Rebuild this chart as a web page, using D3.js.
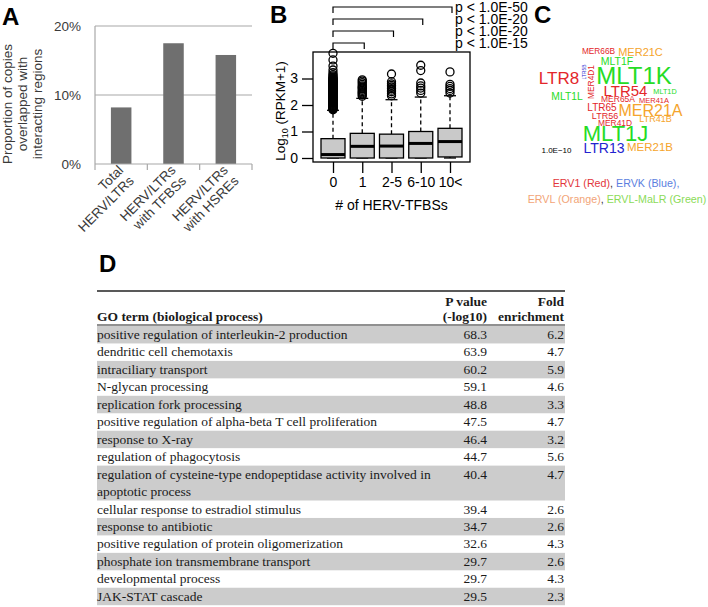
<!DOCTYPE html>
<html><head><meta charset="utf-8">
<script src="https://cdn.jsdelivr.net/npm/d3@7"></script>
<style>body{margin:0;background:#fff}svg{display:block}</style>
</head><body>
<svg id="fig" width="708" height="607"></svg>
<script>
// ---------- Panel A data ----------
const aCategories = [["Total","HERV/LTRs"],["HERV/LTRs","with TFBSs"],["HERV/LTRs","with HSREs"]];
const aValues = [0.082, 0.175, 0.158];
const aTicks = [0, 0.1, 0.2];
const aTickLabels = ["0%","10%","20%"];
const aYLabel = ["Proportion of copies","overlapped with","interacting regions"];

// ---------- Panel B data ----------
const bCategories = ["0","1","2-5","6-10","10<"];
const bLowWhisker = [0, 0, 0, 0, 0];
const bQ1 = [0, 0, 0, 0, 0.04];
const bMedian = [0.13, 0.44, 0.45, 0.55, 0.62];
const bQ3 = [0.73, 0.93, 0.9, 1.0, 1.12];
const bHighWhisker = [1.8, 2.25, 2.2, 2.3, 2.35];
const bOutliers = [
  [1.82,1.84,1.86,1.88,1.9,1.92,1.94,1.96,1.98,2.0,2.02,2.04,2.06,2.08,2.1,2.12,2.14,2.16,2.18,2.2,2.22,2.24,2.26,2.28,2.3,2.32,2.34,2.36,2.38,2.4,2.42,2.44,2.46,2.48,2.5,2.52,2.54,2.56,2.58,2.6,2.62,2.64,2.66,2.68,2.7,2.72,2.74,2.76,2.78,2.8,2.82,2.84,2.86,2.88,2.9,2.92,2.94,2.96,2.98,3.0,3.03,3.06,3.1,3.15,3.22,3.32,3.47,3.7,3.95],
  [2.33,2.38,2.42,2.46,2.5,2.55,2.6,2.64,2.68,2.72,2.78,2.84,2.9,2.95],
  [2.35,2.42,2.5,2.56,2.62,2.68,2.74,2.8,2.88,3.17],
  [2.45,2.55,2.64,2.72,2.83,3.3,3.5],
  [2.45,2.55,2.62,2.7,2.78,3.25]
];
const bYTicks = [0,1,2,3];
const bComparisons = ["1","2-5","6-10","10<"];
const bPLabels = ["p < 1.0E-15","p < 1.0E-20","p < 1.0E-20","p < 1.0E-50"];

// ---------- Panel C data ----------
const cWords = ["MER66B","MER21C","MLT1F","LTR8","LTR5B","MER4D1","MLT1K","LTR54","MLT1D","MLT1L","MER65A","MER41A","LTR65","MER21A","LTR56","LTR41B","MER41D","MLT1J","LTR13","MER21B"];
const cFamily = ["ERV1","ERVL","ERVL-MaLR","ERV1","ERVK","ERV1","ERVL-MaLR","ERV1","ERVL-MaLR","ERVL-MaLR","ERV1","ERV1","ERV1","ERVL","ERV1","ERVL","ERV1","ERVL-MaLR","ERVK","ERVL"];
const cWeight = [8.3,11,10.5,17,5,8.4,24,15,7.3,10.3,8.5,7.5,10,16,9,9,8.4,22,14,11.5];
// word-cloud layout (centres) and rotation
const cLayoutX = [598.5,640.5,617,559,584.5,591,634,625.5,665,567,618,654,602,650.5,605,655.5,615,615.5,604,650];
const cLayoutY = [51,52,61,78,72,82,75.5,90.5,91,96,99,100,107,110,116,119,123,133.5,148,147];
const cRotated = [0,0,0,0,1,1,0,0,0,0,0,0,0,0,0,0,0,0,0,0];
const cFamilies = ["ERV1","ERVK","ERVL","ERVL-MaLR"];
const cWordColors = ["#e3262a","#2323cf","#f5a42c","#26dc26"];
const cLegendColors = ["#e2363b","#5b7ee0","#f2a477","#8bdb58"];
const cScaleLabel = "1.0E\u221210";

// ---------- Panel D data ----------
const dTerms = [
  "positive regulation of interleukin-2 production",
  "dendritic cell chemotaxis",
  "intraciliary transport",
  "N-glycan processing",
  "replication fork processing",
  "positive regulation of alpha-beta T cell proliferation",
  "response to X-ray",
  "regulation of phagocytosis",
  "regulation of cysteine-type endopeptidase activity involved in|apoptotic process",
  "cellular response to estradiol stimulus",
  "response to antibiotic",
  "positive regulation of protein oligomerization",
  "phosphate ion transmembrane transport",
  "developmental process",
  "JAK-STAT cascade"
];
const dPValues = ["68.3","63.9","60.2","59.1","48.8","47.5","46.4","44.7","40.4","39.4","34.7","32.6","29.7","29.7","29.5"];
const dFold = ["6.2","4.7","5.9","4.6","3.3","4.7","3.2","5.6","4.7","2.6","2.6","4.3","2.6","4.3","2.3"];

const svg = d3.select("#fig");
svg.append("rect").attr("width",708).attr("height",607).attr("fill","#fff");

// panel letters
[["A",2,25],["B",270,23],["C",534,23],["D",99,272]].forEach(([t,x,y])=>{
  svg.append("text").attr("x",x).attr("y",y).text(t)
    .attr("font-family","Liberation Sans, Arial, sans-serif").attr("font-weight","bold")
    .attr("font-size",24).attr("fill","#000");
});

// ================= Panel A =================
(function(){
  const g = svg.append("g");
  const tc = "#3a3a3a";
  const x = d3.scaleBand().domain(d3.range(aCategories.length)).range([95,252]).paddingInner(0.608).paddingOuter(0.304);
  const y = d3.scaleLinear().domain([0,0.2]).range([164,26]);
  g.selectAll(".grid").data(aTicks.filter(t=>t>0)).join("line")
    .attr("x1",95).attr("x2",252).attr("y1",d=>y(d)).attr("y2",d=>y(d))
    .attr("stroke","#a8a8a8").attr("stroke-width",1.2);
  g.append("line").attr("x1",95).attr("x2",95).attr("y1",y(0.2)).attr("y2",y(0)).attr("stroke","#a8a8a8").attr("stroke-width",1.2);
  g.selectAll(".bar").data(aValues).join("rect")
    .attr("x",(d,i)=>x(i)).attr("width",x.bandwidth())
    .attr("y",d=>y(d)).attr("height",d=>y(0)-y(d)).attr("fill","#6f6f6f");
  g.append("line").attr("x1",95).attr("x2",252).attr("y1",y(0)).attr("y2",y(0)).attr("stroke","#a8a8a8").attr("stroke-width",1.2);
  d3.range(aCategories.length+1).forEach(i=>{
    const xx = 95 + i*(157/aCategories.length);
    g.append("line").attr("x1",xx).attr("x2",xx).attr("y1",y(0)).attr("y2",y(0)+6).attr("stroke","#a8a8a8").attr("stroke-width",1.2);
  });
  g.selectAll(".yl").data(aTicks).join("text")
    .attr("x",81).attr("y",d=>y(d)).attr("dy","0.36em").attr("text-anchor","end")
    .attr("font-family","Liberation Sans, Arial, sans-serif").attr("font-size",13.5).attr("fill",tc)
    .text((d,i)=>aTickLabels[i]);
  aCategories.forEach((lines,i)=>{
    const cx = x(i)+x.bandwidth()/2;
    const t = g.append("text").attr("transform",`translate(${cx+3},${171}) rotate(-45)`)
      .attr("text-anchor","end").attr("font-family","Liberation Sans, Arial, sans-serif")
      .attr("font-size",13.5).attr("fill",tc);
    lines.forEach((l,j)=>t.append("tspan").attr("x",0).attr("y",j*15).text(l));
  });
  const yt = g.append("text").attr("transform","translate(12,104) rotate(-90)")
    .attr("text-anchor","middle").attr("font-family","Liberation Sans, Arial, sans-serif")
    .attr("font-size",13.5).attr("fill",tc);
  aYLabel.forEach((l,j)=>yt.append("tspan").attr("x",0).attr("y",j*15).text(l));
})();

// ================= Panel B =================
(function(){
  const g = svg.append("g");
  const font = "Liberation Sans, Arial, sans-serif";
  const left=313,right=470,top=52,bottom=162;
  const x = d3.scalePoint().domain(bCategories).range([333,450]);
  const y = d3.scaleLinear().domain([0,3]).range([158,78.5]);
  const bw = 24;
  bCategories.forEach((c,i)=>{
    const cx = x(c);
    g.append("line").attr("x1",cx).attr("x2",cx).attr("y1",y(bQ3[i])).attr("y2",y(bHighWhisker[i]))
      .attr("stroke","#000").attr("stroke-width",1.3).attr("stroke-dasharray","4,3");
    g.append("line").attr("x1",cx-bw/4).attr("x2",cx+bw/4).attr("y1",y(bHighWhisker[i])).attr("y2",y(bHighWhisker[i]))
      .attr("stroke","#000").attr("stroke-width",1.3);
    g.append("line").attr("x1",cx).attr("x2",cx).attr("y1",y(bQ1[i])).attr("y2",y(bLowWhisker[i]))
      .attr("stroke","#000").attr("stroke-width",1.3).attr("stroke-dasharray","4,3");
    g.append("line").attr("x1",cx-bw/4).attr("x2",cx+bw/4).attr("y1",y(bLowWhisker[i])).attr("y2",y(bLowWhisker[i]))
      .attr("stroke","#000").attr("stroke-width",1.3);
    g.append("rect").attr("x",cx-bw/2).attr("width",bw).attr("y",y(bQ3[i])).attr("height",y(bQ1[i])-y(bQ3[i]))
      .attr("fill","#c9c9c9").attr("stroke","#000").attr("stroke-width",1.3);
    g.append("line").attr("x1",cx-bw/2).attr("x2",cx+bw/2).attr("y1",y(bMedian[i])).attr("y2",y(bMedian[i]))
      .attr("stroke","#000").attr("stroke-width",3);
    g.selectAll(null).data(bOutliers[i]).join("circle")
      .attr("cx",cx).attr("cy",d=>y(d)).attr("r",4).attr("fill","none").attr("stroke","#000").attr("stroke-width",1.3);
  });
  g.append("rect").attr("x",left).attr("y",top).attr("width",right-left).attr("height",bottom-top)
    .attr("fill","none").attr("stroke","#000").attr("stroke-width",1.3);
  const ya = g.append("g").attr("transform",`translate(${left},0)`)
    .call(d3.axisLeft(y).tickValues(bYTicks).tickSize(11).tickPadding(4).tickFormat(d3.format("d")));
  ya.select(".domain").remove();
  ya.selectAll("line").attr("stroke-width",1.3);
  ya.selectAll("text").attr("font-family",font).attr("font-size",14).attr("fill","#000");
  const xa = g.append("g").attr("transform",`translate(0,${bottom})`)
    .call(d3.axisBottom(x).tickSize(11).tickPadding(4));
  xa.select(".domain").remove();
  xa.selectAll("line").attr("stroke-width",1.3);
  xa.selectAll("text").attr("font-family",font).attr("font-size",14).attr("fill","#000");
  g.append("text").attr("x",(left+right)/2).attr("y",210).attr("text-anchor","middle")
    .attr("font-family",font).attr("font-size",14).text("# of HERV-TFBSs");
  const yt = g.append("text").attr("transform","translate(285,111) rotate(-90)").attr("text-anchor","middle")
    .attr("font-family",font).attr("font-size",13.5);
  yt.append("tspan").text("Log");
  yt.append("tspan").attr("font-size",9).attr("dy",3).text("10");
  yt.append("tspan").attr("dy",-3).text(" (RPKM+1)");
  bComparisons.forEach((c,i)=>{
    const by = 43 - i*12;
    const x0 = x("0"), x1 = x(c)+2;
    g.append("path").attr("d",`M${x0},${by+6}V${by}H${x1}V${by+6}`).attr("fill","none")
      .attr("stroke","#000").attr("stroke-width",1.2);
  });
  bPLabels.forEach((p,i)=>{
    g.append("text").attr("x",455).attr("y",43-i*12).attr("dy","0.36em")
      .attr("font-family",font).attr("font-size",14).attr("fill","#000").text(p);
  });
})();

// ================= Panel C =================
(function(){
  const g = svg.append("g");
  const font = "Liberation Sans, Arial, sans-serif";
  const color = d3.scaleOrdinal().domain(cFamilies).range(cWordColors);
  const legendColor = d3.scaleOrdinal().domain(cFamilies).range(cLegendColors);
  const size = d3.scaleLinear().domain([5,24]).range([5,24]);
  cWords.forEach((w,i)=>{
    g.append("text").attr("transform",`translate(${cLayoutX[i]},${cLayoutY[i]})${cRotated[i]?" rotate(-90)":""}`)
      .attr("text-anchor","middle").attr("dy","0.36em")
      .attr("font-family",font).attr("font-size",size(cWeight[i])).attr("fill",color(cFamily[i])).text(w);
  });
  g.append("text").attr("x",556.5).attr("y",150).attr("dy","0.36em").attr("text-anchor","middle")
    .attr("font-family",font).attr("font-size",8).attr("fill","#000").text(cScaleLabel);
  const l1 = g.append("text").attr("x",616).attr("y",187).attr("text-anchor","middle")
    .attr("font-family",font).attr("font-size",10.7);
  l1.append("tspan").attr("fill",legendColor("ERV1")).text("ERV1 (Red)");
  l1.append("tspan").attr("fill","#333").text(", ");
  l1.append("tspan").attr("fill",legendColor("ERVK")).text("ERVK (Blue),");
  const l2 = g.append("text").attr("x",617).attr("y",203).attr("text-anchor","middle")
    .attr("font-family",font).attr("font-size",10.7);
  l2.append("tspan").attr("fill",legendColor("ERVL")).text("ERVL (Orange)");
  l2.append("tspan").attr("fill","#333").text(", ");
  l2.append("tspan").attr("fill",legendColor("ERVL-MaLR")).text("ERVL-MaLR (Green)");
})();

// ================= Panel D =================
(function(){
  const g = svg.append("g");
  const font = "Liberation Serif, Times New Roman, serif";
  const fs = 13.5, tcol = "#1a1a1a";
  const left = 97, right = 565, pRight = 487, fRight = 564;
  const rh = 17.45, start = 326;
  const lines = dTerms.map(t=>t.split("|").length);
  const tops = [];
  let acc = start;
  lines.forEach(n=>{tops.push(acc); acc += n*rh;});
  dTerms.forEach((t,i)=>{
    if(i%2===0) g.append("rect").attr("x",left).attr("y",tops[i]).attr("width",right-left).attr("height",lines[i]*rh).attr("fill","#cccccc");
    t.split("|").forEach((l,j)=>{
      g.append("text").attr("x",left).attr("y",tops[i]+13+j*rh).attr("font-family",font).attr("font-size",fs).attr("fill",tcol).text(l);
    });
    g.append("text").attr("x",pRight).attr("y",tops[i]+13).attr("text-anchor","end").attr("font-family",font).attr("font-size",fs).attr("fill",tcol).text(dPValues[i]);
    g.append("text").attr("x",fRight).attr("y",tops[i]+13).attr("text-anchor","end").attr("font-family",font).attr("font-size",fs).attr("fill",tcol).text(dFold[i]);
  });
  g.append("line").attr("x1",left).attr("x2",right).attr("y1",291).attr("y2",291).attr("stroke","#222").attr("stroke-width",1.4);
  g.append("line").attr("x1",left).attr("x2",right).attr("y1",325).attr("y2",325).attr("stroke","#222").attr("stroke-width",1.2);
  const hb = (x,y,t,anchor)=>g.append("text").attr("x",x).attr("y",y).attr("text-anchor",anchor)
    .attr("font-family",font).attr("font-size",fs).attr("font-weight","bold").attr("fill",tcol).text(t);
  hb(left,321,"GO term (biological process)","start");
  hb(pRight,306,"P value","end");
  hb(pRight,321,"(-log10)","end");
  hb(fRight,306,"Fold","end");
  hb(fRight,321,"enrichment","end");
})();
</script>
</body></html>
